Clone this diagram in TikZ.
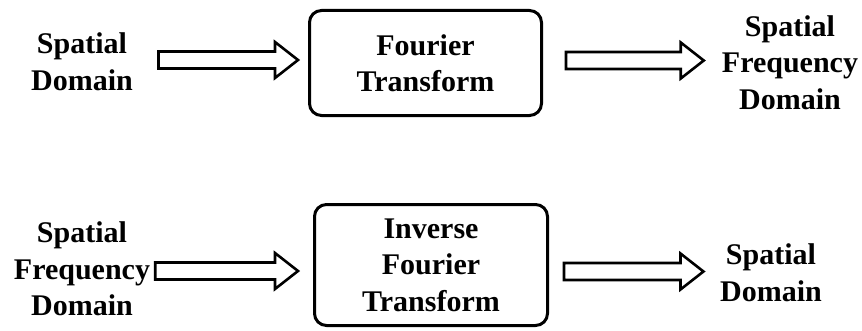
\documentclass[tikz,border=0pt]{standalone}
\usepackage{fontspec}
\setmainfont{Liberation Serif}
\usetikzlibrary{calc}

\tikzset{
  box/.style={draw,line width=3pt,rounded corners=12pt,minimum width=232pt},
  hollow/.style={draw,line width=2.6pt,line join=miter,to path={
    let \p1=(\tikztostart), \p2=(\tikztotarget) in
    (\x1,\y1+8.5pt) -- (\x2-23pt,\y1+8.5pt) -- (\x2-23pt,\y1+18pt) -- (\x2,\y1)
    -- (\x2-23pt,\y1-18pt) -- (\x2-23pt,\y1-8.5pt) -- (\x1,\y1-8.5pt) -- cycle}}
}

\begin{document}
\begin{tikzpicture}[x=1pt,y=1pt]
\useasboundingbox (0,0) rectangle (862,330);
\begin{scope}[every node/.style={align=center,inner sep=0pt,font=\fontsize{30}{36.5}\selectfont\bfseries}]
    % forward transform
    \node (sd) at (82,268.5) {Spatial\\Domain};
    \node[box,minimum height=105pt] (ft) at (425.5,267) {Fourier\\Transform};
    \node (sfd) at (790,267.5) {Spatial\\Frequency\\Domain};

    % inverse transform
    \node (sfdi) at (82,61) {Spatial\\Frequency\\Domain};
    \node[box,minimum height=121pt,minimum width=233pt] (ift) at (431,65) {Inverse\\Fourier\\Transform};
    \node (sdi) at (771,57.5) {Spatial\\Domain};
\end{scope}

\draw[hollow] ([xshift=25.5pt,yshift=1.5pt]sd.east) to ([xshift=-10pt]ft.west);
\draw[hollow] ([xshift=23pt,yshift=2.5pt]ft.east) to ([xshift=-18pt]sfd.west);
\draw[hollow] ([xshift=5pt,yshift=-2pt]sfdi.east) to ([xshift=-15pt]ift.west);
\draw[hollow] ([xshift=15pt,yshift=-6.5pt]ift.east) to ([xshift=-16.5pt]sdi.west);
\end{tikzpicture}
\end{document}
